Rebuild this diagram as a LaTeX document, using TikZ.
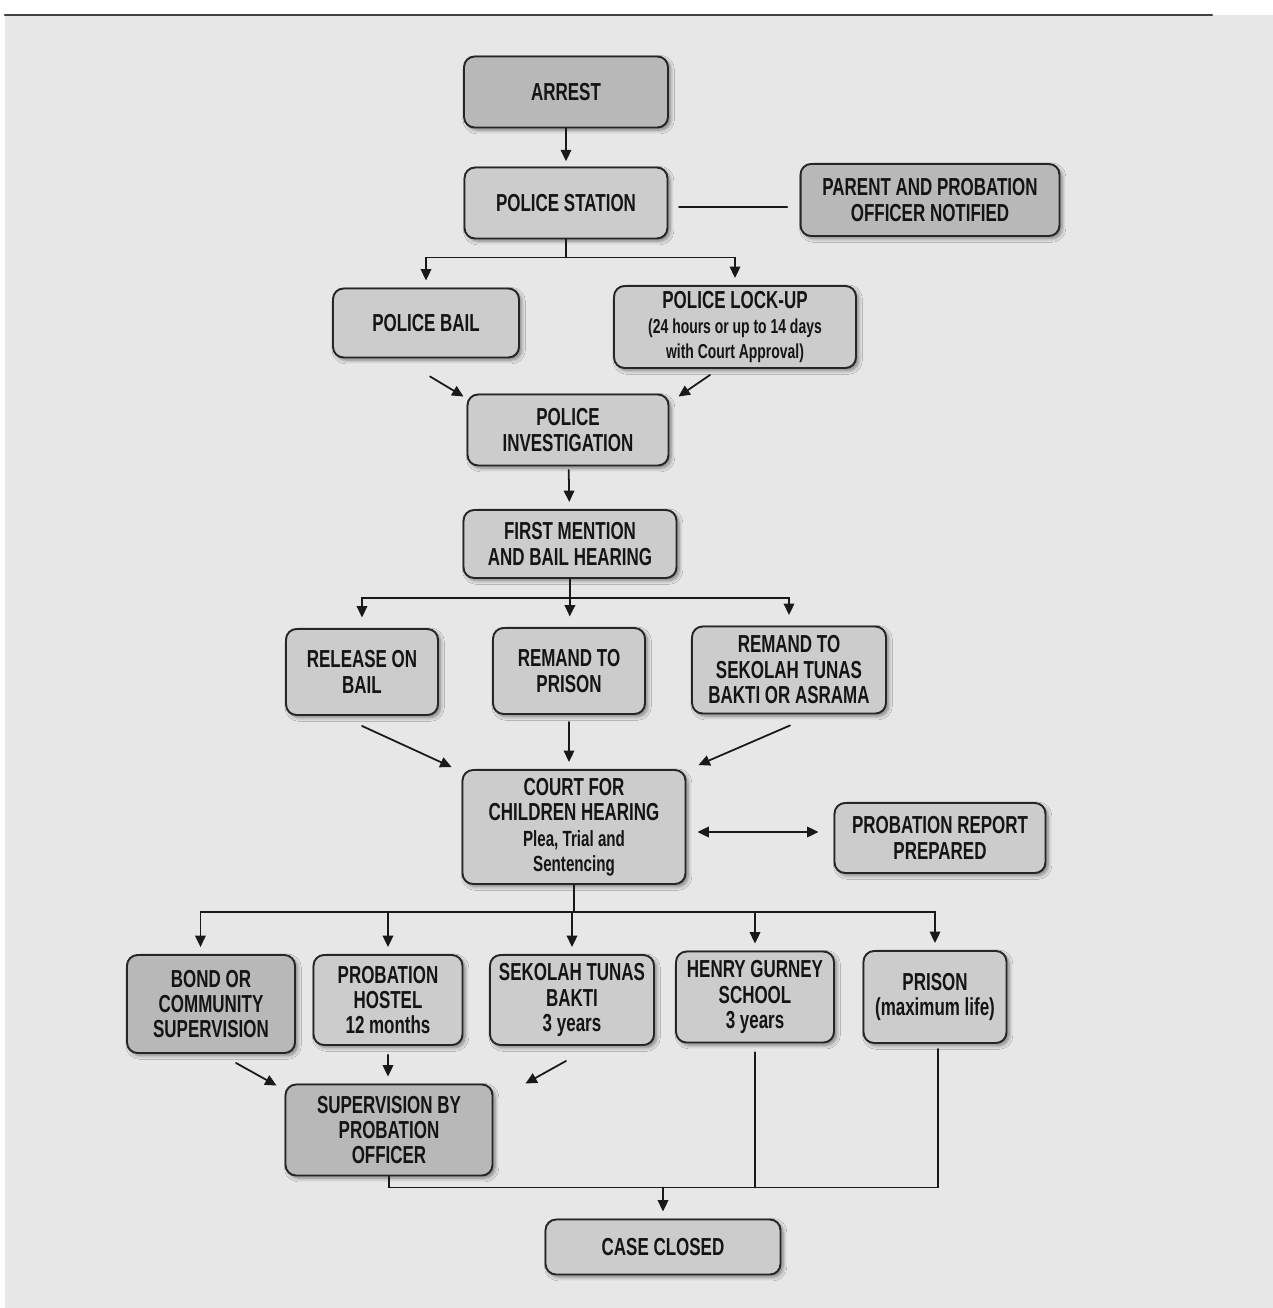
\documentclass[tikz,border=0pt]{standalone}
\usepackage{fontspec}
\setmainfont{Liberation Sans}[FakeStretch=0.69]
\usepackage{tikz}
\usetikzlibrary{arrows.meta,shadows.blur}

\definecolor{bggray}{RGB}{231,231,231}
\definecolor{boxgray}{RGB}{204,204,204}
\definecolor{boxdark}{RGB}{184,184,184}

\newcommand{\detailfont}{\fontsize{11.5}{12}\selectfont}
\newcommand{\notefont}{\fontsize{12.5}{13}\selectfont}

\tikzset{
  stage/.style={draw=black!85, line width=1.1pt, rounded corners=6pt, fill=boxgray,
    align=center, inner sep=0pt, text=black!92,
    font=\bfseries\fontsize{14}{14.5}\selectfont,
    blur shadow={shadow xshift=1.5pt, shadow yshift=-1.5pt, shadow blur steps=6, shadow opacity=45}},
  darkstage/.style={stage, fill=boxdark},
  link/.style={line width=1pt, black!90},
}

\begin{document}
\begin{tikzpicture}[x=0.02cm,y=-0.02cm,>={Triangle[length=6.5pt,width=6pt]},line cap=round]
\useasboundingbox (0,0) rectangle (1273,1308);
\fill[white] (0,0) rectangle (1273,1308);
\fill[bggray] (5,15) rectangle (1273,1308);
\draw[line width=1.4pt, black!75] (5,15) -- (1212,15);

% stages
\node[darkstage, minimum width=4.08cm, minimum height=1.42cm] (arrest) at (566,92) {ARREST};
\node[stage, minimum width=4.06cm, minimum height=1.42cm] (station) at (566,203) {POLICE STATION};
\node[darkstage, minimum width=5.18cm, minimum height=1.44cm] (notified) at (930,200) {PARENT AND PROBATION\\OFFICER NOTIFIED};
\node[stage, minimum width=3.72cm, minimum height=1.38cm] (pbail) at (426,323) {POLICE BAIL};
\node[stage, minimum width=4.84cm, minimum height=1.64cm] (lockup) at (735,327) {POLICE LOCK-UP\\{\detailfont(24 hours or up to 14 days}\\{\detailfont with Court Approval)}};
\node[stage, minimum width=4.02cm, minimum height=1.42cm] (invest) at (568,430) {POLICE\\INVESTIGATION};
\node[stage, minimum width=4.26cm, minimum height=1.36cm] (mention) at (570,544) {FIRST MENTION\\AND BAIL HEARING};
\node[stage, minimum width=3.04cm, minimum height=1.72cm] (release) at (362,672) {RELEASE ON\\BAIL};
\node[stage, minimum width=3.04cm, minimum height=1.72cm] (remand) at (569,671) {REMAND TO\\PRISON};
\node[stage, minimum width=3.88cm, minimum height=1.74cm] (sekolah) at (789,670) {REMAND TO\\SEKOLAH TUNAS\\BAKTI OR ASRAMA};
\node[stage, minimum width=4.46cm, minimum height=2.28cm] (court) at (574,827) {COURT FOR\\CHILDREN HEARING\\{\notefont Plea, Trial and}\\{\notefont Sentencing}};
\node[stage, minimum width=4.22cm, minimum height=1.40cm] (report) at (940,838) {PROBATION REPORT\\PREPARED};
\node[darkstage, minimum width=3.36cm, minimum height=1.96cm] (bond) at (211,1004) {BOND OR\\COMMUNITY\\SUPERVISION};
\node[stage, minimum width=2.98cm, minimum height=1.80cm] (hostel) at (388,1000) {PROBATION\\HOSTEL\\12 months};
\node[stage, minimum width=3.28cm, minimum height=1.80cm] (stb) at (572,1000) {SEKOLAH TUNAS\\BAKTI\\3 years};
\node[stage, minimum width=3.16cm, minimum height=1.82cm] (gurney) at (755,997) {HENRY GURNEY\\SCHOOL\\3 years};
\node[stage, minimum width=2.86cm, minimum height=1.84cm] (prison) at (935,997) {PRISON\\(maximum life)};
\node[darkstage, minimum width=4.14cm, minimum height=1.82cm] (superv) at (389,1130) {SUPERVISION BY\\PROBATION\\OFFICER};
\node[stage, minimum width=4.70cm, minimum height=1.10cm] (closed) at (663,1247) {CASE CLOSED};

% arrest to investigation
\draw[link,->,shorten >=3pt] (arrest) -- (station);
\draw[link,shorten <=6pt,shorten >=7pt] ([yshift=-2.3pt]station.east) -- ([yshift=-2.3pt]station.east -| notified.west);
\draw[link] (station.south) -- ++(0,18) coordinate (split1);
\draw[link,->,shorten >=4pt] (split1) -| (pbail);
\draw[link,->,shorten >=4pt] (split1) -| (lockup);
\draw[link,->] ([shift={(4,18)}]pbail.south) -- ([shift={(-3,3)}]invest.north west);
\draw[link,->] ([shift={(-25,6)}]lockup.south) -- ([shift={(9,3)}]invest.north east);
\draw[link,->,shorten <=2pt,shorten >=4pt] (invest) -- (mention);

% hearing
\draw[link] (mention.south) -- ++(0,19) coordinate (split2);
\draw[link,->,shorten >=6pt] (split2) -| (release);
\draw[link,->,shorten >=6pt] (split2) -- (remand);
\draw[link,->,shorten >=6pt] (split2) -| (sekolah);
\draw[link,->] ([shift={(0,10)}]release.south) -- ([shift={(-10,-2)}]court.north west);
\draw[link,->,shorten <=4pt,shorten >=4pt] (remand.south) -- (remand.south |- court.north);
\draw[link,->] ([shift={(1,11)}]sekolah.south) -- ([shift={(12,-4)}]court.north east);
\draw[link,<->] ([shift={(11,5)}]court.east) -- ([shift={(-15,-6)}]report.west);

% sentences
\draw[link] (court.south) -- ++(0,27) coordinate (split3);
\draw[link,->,shorten >=4pt] (split3) -| ([xshift=-6pt]bond.north);
\draw[link,->,shorten >=4pt] (split3) -| (hostel);
\draw[link,->,shorten >=4pt] (split3) -| (stb);
\draw[link,->,shorten >=4pt] (split3) -| (gurney);
\draw[link,->,shorten >=4pt] (split3) -| (prison);
\draw[link,->] ([shift={(25,9)}]bond.south) -- ([shift={(-8,2)}]superv.north west);
\draw[link,->,shorten <=5pt,shorten >=4pt] (hostel.south) -- (hostel.south |- superv.north);
\draw[link,->] ([shift={(-6,15)}]stb.south) -- ([shift={(32,0)}]superv.north east);

% closing
\draw[link] (superv.south) -- ++(0,11) coordinate (merge) -| ([shift={(3,5)}]prison.south);
\draw[link,shorten <=5pt] (gurney.south) -- (gurney.south |- merge);
\draw[link,->,shorten >=4pt] (merge -| closed.north) -- (closed.north);

\end{tikzpicture}
\end{document}
